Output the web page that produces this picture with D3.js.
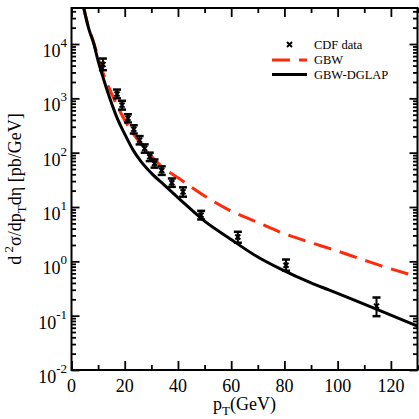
<!DOCTYPE html>
<meta charset="utf-8">
<style>
body { margin: 0; background: #fff; }
text { font-family: "Liberation Serif", "Times New Roman", serif; fill: #000; }
.curve { fill: none; stroke-width: 3px; }
</style>
<body>
<div id="plotHere"></div>
<script src="https://cdn.jsdelivr.net/npm/d3@7"></script>
<script>
//------------------------ DATA ------------------------//
// CDF data points: pT (GeV), value, lower / upper end of error bar
const cdfPt  = [11.8, 17.1, 19.0, 21.2, 23.4, 25.6, 27.5, 29.4, 31.2, 33.9, 37.7, 41.9, 48.7, 62.5, 80.6, 114.6];
const cdfVal = [4200, 1200, 750, 430, 270, 170, 120, 84, 63, 47, 28, 19, 7.1, 2.8, 0.85, 0.15];
const cdfLo  = [3300, 1000, 620, 360, 225, 142, 100, 70, 53, 39, 23.5, 15.5, 5.9, 2.2, 0.67, 0.098];
const cdfHi  = [5400, 1450, 900, 510, 320, 202, 142, 100, 75, 56, 33.5, 23, 8.5, 3.5, 1.08, 0.216];

// GBW (red dashed)
const gbwPt  = [4.6, 6.5, 8.4, 10, 12, 15.6, 20.6, 26.9, 33.1, 40.6, 50, 59.4, 70, 78.1, 90, 96.9, 110, 115.6, 130];
const gbwVal = [46000, 19500, 10500, 5500, 2800, 1070, 350, 130, 60, 33, 16, 8.7, 5.2, 3.5, 2.2, 1.73, 1.05, 0.85, 0.52];

// GBW-DGLAP (black solid)
const dglapPt  = [4.6, 6.5, 8.4, 10, 12, 14.4, 17, 20, 23, 26, 30, 35, 40.6, 50, 59.4, 70, 78.1, 90, 96.9, 130];
const dglapVal = [46000, 19000, 10000, 4900, 2300, 1000, 450, 220, 115, 70, 42, 25, 14, 5.5, 2.64, 1.2, 0.74, 0.4, 0.295, 0.064];

const xMajor = [0, 20, 40, 60, 80, 100, 120];
const xMinor = [10, 30, 50, 70, 90, 110, 130];
const yExps  = [-2, -1, 0, 1, 2, 3, 4];

const legendItems = ["CDF data", "GBW", "GBW-DGLAP"];

//------------------------ SVG ------------------------//
const W = 419, H = 419;
const plot = {left: 71.5, right: 417.5, top: 8, bottom: 370};

const svg = d3.select("#plotHere").append("svg")
    .attr("width", W).attr("height", H);

const x = d3.scaleLinear().domain([0, 130]).range([plot.left, plot.right]);
const y = d3.scaleLog().domain([0.01, 46000]).range([plot.bottom, plot.top]);

svg.append("clipPath").attr("id", "clip")
  .append("rect")
    .attr("x", plot.left).attr("y", plot.top)
    .attr("width", plot.right - plot.left).attr("height", plot.bottom - plot.top);

//------------------------ CURVES ------------------------//
const line = d3.line()
    .x(d => x(d[0]))
    .y(d => y(d[1]))
    .curve(d3.curveMonotoneX);

const gClip = svg.append("g").attr("clip-path", "url(#clip)");

gClip.append("path")
    .datum(d3.zip(gbwPt, gbwVal))
    .attr("class", "curve")
    .attr("stroke", "#ff2a0a")
    .attr("stroke-dasharray", "18,9")
    .attr("d", line);

gClip.append("path")
    .datum(d3.zip(dglapPt, dglapVal))
    .attr("class", "curve")
    .attr("stroke", "#000")
    .attr("d", line);

//------------------------ DATA POINTS ------------------------//
const pts = svg.append("g").selectAll("g")
  .data(d3.range(cdfPt.length))
  .join("g");

pts.append("line")
    .attr("x1", i => x(cdfPt[i])).attr("x2", i => x(cdfPt[i]))
    .attr("y1", i => y(cdfLo[i])).attr("y2", i => y(cdfHi[i]))
    .attr("stroke", "#000").attr("stroke-width", 2);
[cdfLo, cdfHi].forEach(arr => {
  pts.append("line")
      .attr("x1", i => x(cdfPt[i]) - 4).attr("x2", i => x(cdfPt[i]) + 4)
      .attr("y1", i => y(arr[i])).attr("y2", i => y(arr[i]))
      .attr("stroke", "#000").attr("stroke-width", 2.5);
});

function cross(g, cx, cy, r) {
  g.append("path")
    .attr("d", `M${cx - r},${cy - r}L${cx + r},${cy + r}M${cx - r},${cy + r}L${cx + r},${cy - r}`)
    .attr("stroke", "#000").attr("stroke-width", 2).attr("fill", "none");
}
pts.each(function(i) { cross(d3.select(this), x(cdfPt[i]), y(cdfVal[i]), 2.5); });

//------------------------ AXES ------------------------//
const tickStyle = g => {
  g.select(".domain").remove();
  g.selectAll("line").attr("stroke", "#000").attr("stroke-width", 1.8);
};

// bottom / top
svg.append("g").attr("transform", `translate(0,${plot.bottom})`)
  .call(d3.axisBottom(x).tickValues(xMajor).tickSize(-9).tickFormat("")).call(tickStyle);
svg.append("g").attr("transform", `translate(0,${plot.bottom})`)
  .call(d3.axisBottom(x).tickValues(xMinor).tickSize(-5).tickFormat("")).call(tickStyle);
svg.append("g").attr("transform", `translate(0,${plot.top})`)
  .call(d3.axisTop(x).tickValues(xMajor).tickSize(-9).tickFormat("")).call(tickStyle);
svg.append("g").attr("transform", `translate(0,${plot.top})`)
  .call(d3.axisTop(x).tickValues(xMinor).tickSize(-5).tickFormat("")).call(tickStyle);

// left / right
const yMajor = yExps.map(e => Math.pow(10, e));
const yMinor = y.ticks().filter(v => {
  const m = v / Math.pow(10, Math.floor(Math.log10(v) + 1e-9));
  return Math.abs(m - 1) > 1e-6;
});
svg.append("g").attr("transform", `translate(${plot.left},0)`)
  .call(d3.axisLeft(y).tickValues(yMajor).tickSize(-8).tickFormat("")).call(tickStyle);
svg.append("g").attr("transform", `translate(${plot.left},0)`)
  .call(d3.axisLeft(y).tickValues(yMinor).tickSize(-4.5).tickFormat("")).call(tickStyle);
svg.append("g").attr("transform", `translate(${plot.right},0)`)
  .call(d3.axisRight(y).tickValues(yMajor).tickSize(-8).tickFormat("")).call(tickStyle);
svg.append("g").attr("transform", `translate(${plot.right},0)`)
  .call(d3.axisRight(y).tickValues(yMinor).tickSize(-4.5).tickFormat("")).call(tickStyle);

// frame
svg.append("rect")
    .attr("x", plot.left).attr("y", plot.top)
    .attr("width", plot.right - plot.left).attr("height", plot.bottom - plot.top)
    .attr("fill", "none").attr("stroke", "#000").attr("stroke-width", 2);

// x tick labels
svg.append("g").selectAll("text")
  .data(xMajor).join("text")
    .attr("x", d => x(d)).attr("y", 392)
    .attr("text-anchor", "middle")
    .style("font-size", "18px")
    .text(d => d);

// y tick labels
const yl = svg.append("g").selectAll("text")
  .data(yExps).join("text")
    .attr("x", 67).attr("y", d => y(Math.pow(10, d)) + 13)
    .attr("text-anchor", "end")
    .style("font-size", "18px");
yl.append("tspan").text("10");
yl.append("tspan").attr("dy", -10).style("font-size", "13px")
  .text(d => d < 0 ? "-" + (-d) : d);

// x label
const xt = svg.append("text")
    .attr("x", (plot.left + plot.right) / 2).attr("y", 410)
    .attr("text-anchor", "middle")
    .style("font-size", "18px");
xt.append("tspan").text("p");
xt.append("tspan").attr("dy", 5).style("font-size", "13px").text("T");
xt.append("tspan").attr("dy", -5).text("(GeV)");

// y label
const ytl = svg.append("text")
    .attr("transform", `translate(21,${(plot.top + plot.bottom) / 2}) rotate(-90)`)
    .attr("text-anchor", "middle")
    .style("font-size", "18px");
ytl.append("tspan").text("d");
ytl.append("tspan").attr("dy", -8).style("font-size", "13px").text(" 2");
ytl.append("tspan").attr("dy", 8).text("σ/dp");
ytl.append("tspan").attr("dy", 5).style("font-size", "13px").text("T");
ytl.append("tspan").attr("dy", -5).text("dη [pb/GeV]");

//------------------------ LEGEND ------------------------//
const lg = svg.append("g");
const rowY = [44.5, 60, 74.5];
cross(lg, 289.5, rowY[0], 2.5);
lg.append("line")
    .attr("x1", 272).attr("x2", 307).attr("y1", rowY[1]).attr("y2", rowY[1])
    .attr("stroke", "#ff2a0a").attr("stroke-width", 3).attr("stroke-dasharray", "18,9");
lg.append("line")
    .attr("x1", 272).attr("x2", 307).attr("y1", rowY[2]).attr("y2", rowY[2])
    .attr("stroke", "#000").attr("stroke-width", 3);
lg.selectAll("text")
  .data(legendItems).join("text")
    .attr("x", 314).attr("y", (d, i) => rowY[i] + 4)
    .style("font-size", "12.5px")
    .text(d => d);
</script>
</body>
